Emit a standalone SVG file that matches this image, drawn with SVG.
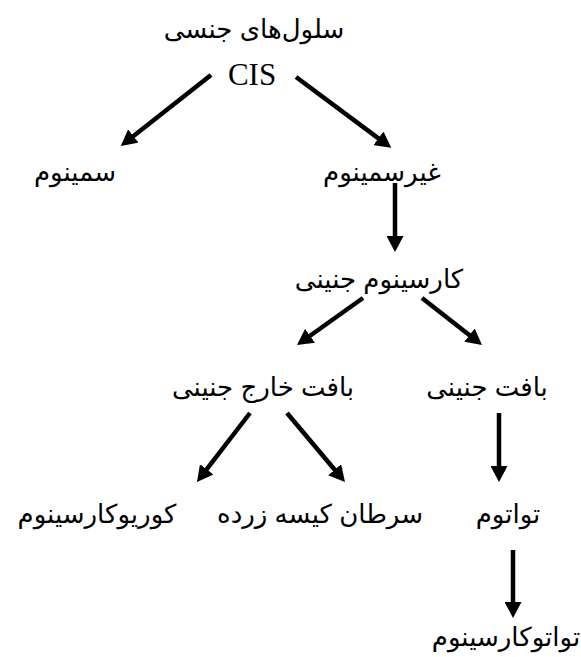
<svg xmlns="http://www.w3.org/2000/svg" width="581" height="657" viewBox="0 0 581 657">
<style>
.fa{font-family:"Liberation Sans","DejaVu Sans",sans-serif;font-size:26px;fill:#000;text-anchor:middle}
.lat{font-family:"Liberation Serif","Times New Roman",serif;font-size:31px;fill:#000;text-anchor:middle}
.arr{stroke:#000;stroke-width:4.5;fill:none;marker-end:url(#ah)}
</style>
<defs>
<marker id="ah" markerUnits="userSpaceOnUse" viewBox="0 0 17 17" markerWidth="17" markerHeight="17" refX="3" refY="8.5" orient="auto">
<path d="M0,0 L16,8.5 L0,17 Z" fill="#000"/>
</marker>
</defs>
<rect width="581" height="657" fill="#fff"/>
<g id="connectors">
<line class="arr" x1="211" y1="75" x2="131" y2="137.9"/>
<line class="arr" x1="296" y1="77" x2="380.8" y2="140.1"/>
<line class="arr" x1="395" y1="183" x2="395" y2="239"/>
<line class="arr" x1="363" y1="298" x2="307.6" y2="337.5"/>
<line class="arr" x1="422" y1="298" x2="471.8" y2="337"/>
<line class="arr" x1="250" y1="413" x2="204.9" y2="471.7"/>
<line class="arr" x1="287" y1="413" x2="336.6" y2="472"/>
<line class="arr" x1="499" y1="413" x2="499" y2="469"/>
<line class="arr" x1="513" y1="550" x2="513" y2="605"/>
</g>
<g id="germ-cells"><text class="fa" x="254" y="38">سلول&#x200C;های جنسی</text></g>
<g id="cis"><text class="lat" x="252" y="85">CIS</text></g>
<g id="seminoma"><text class="fa" x="75" y="181">سمینوم</text></g>
<g id="nonseminoma"><text class="fa" x="382" y="181">غیرسمینوم</text></g>
<g id="embryonal-carcinoma"><text class="fa" x="379" y="288">کارسینوم جنینی</text></g>
<g id="extraembryonic"><text class="fa" x="263" y="396">بافت خارج جنینی</text></g>
<g id="embryonic"><text class="fa" x="487" y="396">بافت جنینی</text></g>
<g id="choriocarcinoma"><text class="fa" x="97" y="523">کوریوکارسینوم</text></g>
<g id="yolk-sac"><text class="fa" x="320" y="523">سرطان کیسه زرده</text></g>
<g id="teratoma"><text class="fa" x="508" y="523">تواتوم</text></g>
<g id="teratocarcinoma"><text class="fa" x="506" y="646" font-size="25">تواتوکارسینوم</text></g>
</svg>
